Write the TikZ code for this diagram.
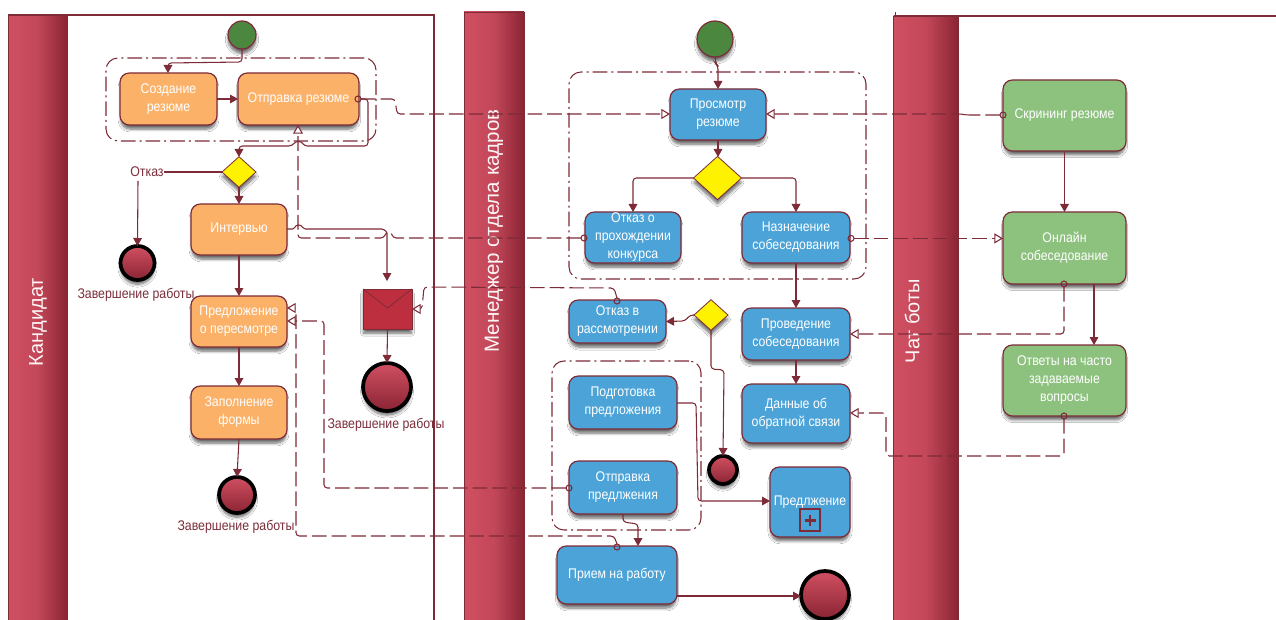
\documentclass[tikz,border=0pt]{standalone}
\usepackage{fontspec}
\setmainfont{Liberation Sans}[FakeStretch=0.88]
\newfontfamily\lanefont{Liberation Sans}
\usetikzlibrary{arrows.meta,shadows.blur,calc,shapes.geometric}
\definecolor{wine}{HTML}{7E2B38}
\definecolor{orangebox}{HTML}{FBB168}
\definecolor{bluebox}{HTML}{4BA3D8}
\definecolor{greenbox}{HTML}{8DC17E}
\definecolor{startgreen}{HTML}{4C8740}
\definecolor{lanelight}{HTML}{D05062}
\definecolor{lanedark}{HTML}{8A2433}
\definecolor{envred}{HTML}{BD2F3E}
\definecolor{textwine}{HTML}{7A2E3A}
\tikzset{
  softshadow/.style={blur shadow={shadow blur steps=6,shadow xshift=0pt,shadow yshift=-3.5pt,shadow blur radius=2.2pt,shadow opacity=60,shadow scale=.98}},
  procbox/.style={draw=wine,line width=.9pt,rounded corners=7pt,inner sep=0pt,outer sep=0pt,align=center,text=white,softshadow,font=\fontsize{10.5}{13.5}\selectfont},
  orangeproc/.style={procbox,fill=orangebox},
  blueproc/.style={procbox,fill=bluebox},
  greenproc/.style={procbox,fill=greenbox},
  gateway/.style={diamond,aspect=1.1,draw=wine,line width=.6pt,fill=yellow,inner sep=0pt,outer sep=0pt,softshadow},
  startev/.style={circle,draw=wine,line width=.9pt,fill=startgreen,inner sep=0pt,outer sep=0pt,softshadow},
  endev/.style={circle,draw=black,line width=2.8pt,top color=lanelight,bottom color=lanedark,inner sep=0pt,outer sep=0pt,softshadow},
  lanehead/.style={draw=wine,line width=.6pt,left color=lanelight,right color=lanedark,middle color=lanelight!80!lanedark,inner sep=0pt,outer sep=0pt},
  laneline/.style={draw=wine,line width=1pt},
  lanetitle/.style={rotate=90,text=white!95!lanelight,font=\lanefont\fontsize{15}{15}\selectfont,inner sep=0pt},
  grp/.style={draw=wine,line width=.8pt,rounded corners=9pt,dash pattern=on 11pt off 3pt on 1.5pt off 3pt},
  flow/.style={draw=wine,line width=.8pt,rounded corners=2.5pt,-{Triangle[width=6.5pt,length=6pt,fill=wine]}},
  plain/.style={draw=wine,line width=.8pt,rounded corners=2.5pt},
  msg/.style={draw=wine,line width=.8pt,rounded corners=2.5pt,dash pattern=on 11pt off 3.75pt,-{Triangle[open,width=7.5pt,length=6.5pt,fill=white]}},
  port/.style={circle,draw=wine,line width=.8pt,fill=none,minimum size=4.5pt,inner sep=0pt,outer sep=0pt},
  evlabel/.style={text=textwine,inner sep=0pt,font=\fontsize{10.5}{12}\selectfont},
}
\newcommand{\bx}[7]{\node[#2,minimum width={(#5-#3)*0.75pt},minimum height={(#6-#4)*0.75pt}] (#1) at ({(#3+#5)/2},{(#4+#6)/2}) {#7};}
\newcommand{\ev}[5]{\node[#2,minimum size={2*#5*0.75pt}] (#1) at (#3,#4) {};}
\newcommand{\gw}[4]{\node[gateway,minimum width={2*#4*0.75pt},minimum height={2*#4*0.75pt*0.9}] (#1) at (#2,#3) {};}
\begin{document}
\begin{tikzpicture}[x=.75pt,y=-.75pt]
\useasboundingbox (0,0) rectangle (1276,620);
\fill[white] (0,0) rectangle (1276,620);
% lanes
\node[lanehead,minimum width=44.25pt,minimum height=453.75pt] (laneA) at (37.5,317.5) {};
\node[lanehead,minimum width=45pt,minimum height=456pt] (laneB) at (494,316) {};
\node[lanehead,minimum width=48.75pt,minimum height=453pt] (laneC) at (926,318) {};
\coordinate (laneAtr) at (434,15);
\coordinate (laneAbr) at (434,620);
\coordinate (laneCtr) at (1276,16);
\coordinate (laneCtick) at (895,12);
\coordinate (laneCtl) at (895,16);
\draw[laneline] (laneA.north west) -- (laneAtr) -- (laneAbr);
\draw[laneline] (laneC.north west) -- (laneCtr);
\draw[laneline,line width=.7pt] (laneCtick) -- (laneCtl);
\node[lanetitle] (titleA) at (38,322) {Кандидат};
\begin{scope}
\clip (464,110) rectangle (524,620);
\node[lanetitle,font=\lanefont\fontsize{15.4}{15}\selectfont] (titleB) at (494,231) {Менеджер отдела кадров};
\end{scope}
\node[lanetitle] (titleC) at (912,321) {Чат боты};
% groups
\node[grp,minimum width=202.5pt,minimum height=62.25pt,inner sep=0pt] (groupA) at (241,99.5) {};
\node[grp,minimum width=222.75pt,minimum height=155.25pt,inner sep=0pt] (groupB) at (717.5,175.5) {};
\node[grp,minimum width=111.75pt,minimum height=126.75pt,inner sep=0pt] (groupC) at (626.5,445.5) {};
% nodes
\ev{startA}{startev}{242}{35}{14}
\bx{create}{orangeproc}{120}{73}{217}{125}{Создание\\резюме}
\bx{send}{orangeproc}{238}{73}{359}{125}{Отправка резюме}
\gw{gateA}{239}{172}{17}
\node[evlabel] (refuse) at (147,172) {Отказ};
\bx{interview}{orangeproc}{191}{204}{287}{255}{Интервью}
\ev{endA}{endev}{137.5}{263}{17}
\node[evlabel] (endAt) at (136,295) {Завершение работы};
\bx{review}{orangeproc}{191}{296}{287}{347}{Предложение\\о пересмотре}
\bx{form}{orangeproc}{191}{386}{287}{439}{Заполнение\\формы}
\ev{endB}{endev}{237}{495}{18}
\node[evlabel] (endBt) at (236,527) {Завершение работы};
\node[draw=wine,line width=.6pt,fill=envred,minimum width=36.75pt,minimum height=30pt,inner sep=0pt,outer sep=0pt,softshadow] (env) at (387.5,309) {};
\coordinate (envflap) at (387.5,308);
\draw[draw=wine,line width=.6pt] (env.north west) -- (envflap) -- (env.north east);
\ev{endC}{endev}{387}{387}{24}
\node[evlabel] (endCt) at (386,425) {Завершение работы};
\ev{startB}{startev}{715}{39}{18}
\bx{view}{blueproc}{670}{89}{766}{140}{Просмотр\\резюме}
\gw{gateB}{717.5}{178}{24}
\bx{rej}{blueproc}{585}{212}{681}{263}{Отказ о\\прохождении\\конкурса}
\bx{appoint}{blueproc}{742}{212}{850}{263}{Назначение\\собеседования}
\bx{rej2}{blueproc}{569}{300}{666}{343}{Отказ в\\рассмотрении}
\gw{gateC}{711}{315}{17}
\bx{conduct}{blueproc}{742}{308}{850}{360}{Проведение\\собеседования}
\bx{feedback}{blueproc}{742}{384}{850}{443}{Данные об\\обратной связи}
\bx{prep}{blueproc}{569}{376}{677}{429}{Подготовка\\предложения}
\bx{sendoffer}{blueproc}{569}{461}{677}{514}{Отправка\\предлжения}
\ev{endD}{endev}{723}{470}{14}
\bx{offer}{blueproc}{770}{467}{850}{537}{Предлжение}
\node[draw=wine,line width=.9pt,minimum width=15pt,minimum height=16.5pt,inner sep=0pt,outer sep=0pt] (plusbox) at (810,520) {};
\draw[wine,line width=1.8pt] ($(plusbox.center)+(-5.5,0.5)$) -- ($(plusbox.center)+(5.5,0.5)$) ($(plusbox.center)+(0,-5)$) -- ($(plusbox.center)+(0,6)$);
\bx{hire}{blueproc}{557}{546}{677}{604}{Прием на работу}
\ev{endE}{endev}{825}{595}{24}
\bx{screen}{greenproc}{1003}{80}{1126}{151}{Скрининг резюме}
\bx{online}{greenproc}{1003}{212}{1126}{284}{Онлайн\\собеседование}
\bx{faq}{greenproc}{1003}{345}{1126}{416}{Ответы на часто\\задаваемые\\вопросы}
% ports
\node[port] (pSend) at (358,99) {};
\node[port] (pRej) at (584,238) {};
\node[port] (pAppoint) at (851,238.4) {};
\node[port] (pRej2) at (617,301) {};
\node[port] (pSendOffer) at (569,488) {};
\node[port] (pHire) at (617,547) {};
\node[port] (pScreen) at (1003,115) {};
\node[port] (pOnline) at (1064,284) {};
\node[port] (pFaq) at (1064,416) {};
% targets at box sides
\coordinate (tCreate) at (168,73);
\coordinate (tSendS) at (298,125);
\coordinate (tViewL) at (670,114);
\coordinate (tViewR) at (766,114);
\coordinate (tGateA) at (239,157);
\coordinate (tEnv) at (412,309);
\coordinate (tRevA) at (287,308);
\coordinate (tRevB) at (287,321);
\coordinate (tOnline) at (1003,238.4);
\coordinate (tConduct) at (850,334);
\coordinate (tFeedback) at (850,413);
\coordinate (tOffer) at (770,501);
\coordinate (tHire) at (638,546);
\coordinate (tFaq) at (1094,345);
\coordinate (tEnvTop) at (387,281);
\coordinate (sRefuse) at (138,181);
\coordinate (sSendoffer) at (623,514);
\coordinate (sOnline) at (1094,284);
\coordinate (sPrep) at (677,403);
\coordinate (sInterview) at (287,229);
\coordinate (sHire) at (677,596);
\coordinate (tEndE) at (801,596);
\coordinate (tRej) at (633,212);
\coordinate (tAppoint) at (796,212);
\coordinate (sAppoint) at (796,263);
\coordinate (tConductTop) at (796,308);
\coordinate (sConduct) at (796,360);
\coordinate (tFeedTop) at (796,384);
\coordinate (tStartB) at (718,89);
\coordinate (sView) at (718,140);
\coordinate (tGateB) at (718,157);
% sequence flows
\draw[flow] (startA.south) -- (242,62) -- (168,63) -- (tCreate);
\draw[flow] (create.east) -- (send.west);
\draw[flow] (pSend.east) -- (368,99) -- (368,146) -- (304,146) .. controls (301,141) and (296,141) .. (292,146) -- (239,146) -- (tGateA);
\draw[flow] (gateA.south) -- (interview.north);
\draw[plain] (gateA.west) -- (refuse.east);
\draw[flow] (sRefuse) -- (endA.north);
\draw[flow] (interview.south) -- (review.north);
\draw[flow] (review.south) -- (form.north);
\draw[flow] (form.south) -- (endB.north);
\draw[flow,rounded corners=1pt] (sInterview) -- (294,229) .. controls (296,224) and (301,224) .. (304,229) -- (383,229) -- (387,232) -- (tEnvTop);
\draw[flow] (env.south) -- (endC.north);
\draw[flow] (startB.south) -- (716,64) -- (718,66) -- (tStartB);
\draw[flow] (sView) -- (tGateB);
\draw[flow] (gateB.west) -- (633,178) -- (tRej);
\draw[flow] (gateB.east) -- (796,178) -- (tAppoint);
\draw[flow] (sAppoint) -- (tConductTop);
\draw[flow] (sConduct) -- (tFeedTop);
\draw[flow] (gateC.west) -- (690,315) -- (685,321) -- (rej2.east);
\draw[flow] (gateC.south) -- (711,369) -- (724,370) -- (endD.north);
\draw[flow] (sPrep) -- (696,403) -- (698,501) -- (tOffer);
\draw[flow] (sSendoffer) -- (623,522) -- (638,524) -- (tHire);
\draw[flow] (sHire) -- (tEndE);
\draw[flow] (screen.south) -- (online.north);
\draw[flow] (sOnline) -- (tFaq);
% message flows
\draw[msg] (pSend.east) -- (395,99) -- (397,114) -- (tViewL);
\draw[msg] (pScreen.west) -- (966,115) -- (962,114) -- (tViewR);
\draw[msg] (pRej.west) -- (393,238) .. controls (391,232) and (387,230) .. (384,238) -- (298,238) -- (tSendS);
\draw[msg] (pRej2.north) -- (614,288) -- (424,287) -- (422,309) -- (tEnv);
\draw[msg] (pAppoint.east) -- (tOnline);
\draw[msg] (pOnline.south) -- (1064,334) -- (tConduct);
\draw[msg] (pFaq.south) -- (1064,456) -- (886,456) -- (886,413) -- (tFeedback);
\draw[msg] (pSendOffer.west) -- (324,488) -- (324,321) -- (tRevB);
\draw[msg] (pHire.north) -- (614,536) -- (296,536) -- (296,308) -- (tRevA);
\end{tikzpicture}
\end{document}
